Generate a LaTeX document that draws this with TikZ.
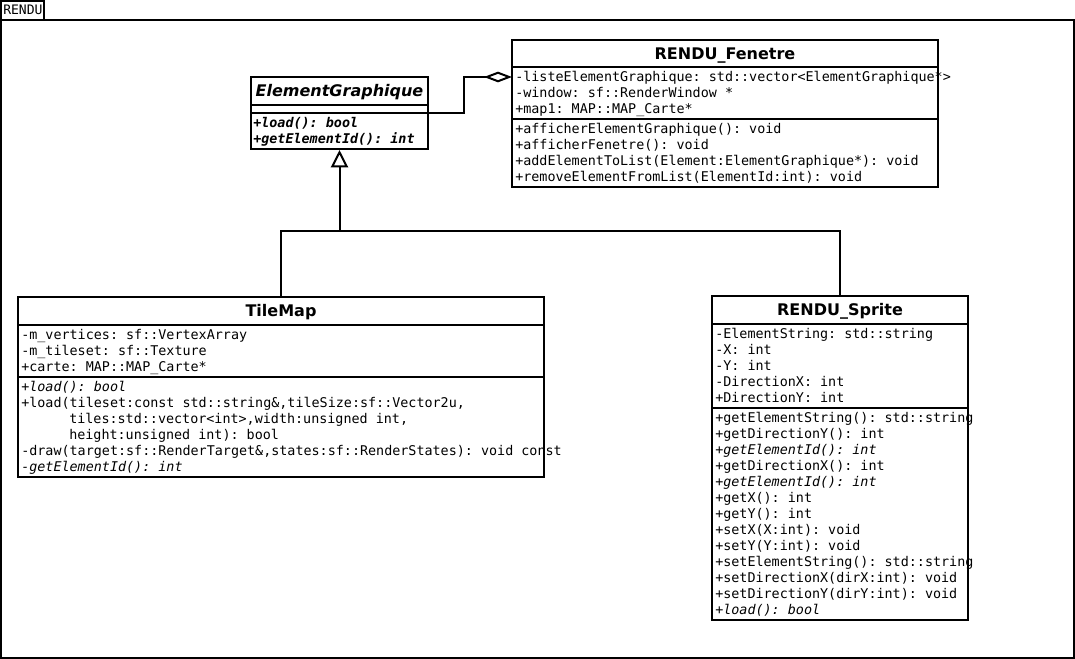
\documentclass[tikz,border=0pt]{standalone}
\usepackage{fontspec}
\setmainfont{DejaVu Sans}
\setmonofont{DejaVu Sans Mono}
\usetikzlibrary{arrows.meta,fit}
\begin{document}
\begin{tikzpicture}[x=0.75pt,y=-0.75pt,
  classbox/.style={draw=black, line width=1.5pt, fill=white, inner sep=0pt},
  frame/.style={draw=black, line width=1.5pt, inner sep=0pt},
  tabbox/.style={draw=black, line width=0.8pt, inner sep=0pt},
  sepline/.style={line width=1.5pt},
  ctitle/.style={font=\fontsize{12}{14}\selectfont\bfseries, inner sep=0pt, anchor=base},
  mem/.style={font=\fontsize{10.05}{12}\selectfont\ttfamily, inner sep=0pt, anchor=base west},
  memi/.style={mem, font=\fontsize{10.05}{12}\selectfont\ttfamily\itshape},
  membi/.style={mem, font=\fontsize{10.05}{12}\selectfont\ttfamily\bfseries\itshape},
  conn/.style={draw=black, line width=1.5pt},
  aggr/.style={conn, -{Diamond[open, length=21pt, width=8pt]}},
  inherit/.style={conn, -{Triangle[open, length=13pt, width=12.8pt]}}
]
\useasboundingbox (0,0) rectangle (1075,659);

% package frame
\node[frame, fit={(1,20) (1074,658)}] (frame) {};
\node[tabbox, fit={(1,1) (44,20)}] (tab) {};
\node[mem, font=\fontsize{9.8}{12}\selectfont\ttfamily] (tabtxt) at (3,15) {RENDU};

% ElementGraphique
\node[classbox, fit={(251,77) (428,149)}] (eg) {};
\draw[sepline] (251,105) -- (428,105);
\draw[sepline] (251,113) -- (428,113);
\node[ctitle, font=\fontsize{12}{14}\selectfont\bfseries\itshape] (egt) at (339.5,96.8) {ElementGraphique};
\node[membi] (eg1) at (253,127.8) {+load(): bool};
\node[membi] (eg2) at (253,143.8) {+getElementId(): int};

% RENDU_Fenetre
\node[classbox, fit={(512,40) (938,187)}] (fen) {};
\draw[sepline] (512,67) -- (938,67);
\draw[sepline] (512,119) -- (938,119);
\node[ctitle] (fent) at (725,59.3) {RENDU\_Fenetre};
\node[mem] (fa1) at (515,81.8) {-listeElementGraphique: std::vector<ElementGraphique*>};
\node[mem] (fa2) at (515,97.8) {-window: sf::RenderWindow *};
\node[mem] (fa3) at (515,113.8) {+map1: MAP::MAP\_Carte*};
\node[mem] (fm1) at (515,133.8) {+afficherElementGraphique(): void};
\node[mem] (fm2) at (515,149.8) {+afficherFenetre(): void};
\node[mem] (fm3) at (515,165.8) {+addElementToList(Element:ElementGraphique*): void};
\node[mem] (fm4) at (515,181.8) {+removeElementFromList(ElementId:int): void};

% TileMap
\node[classbox, fit={(18,297) (544,477)}] (tm) {};
\draw[sepline] (18,325) -- (544,325);
\draw[sepline] (18,377) -- (544,377);
\node[ctitle] (tmt) at (281,316.8) {TileMap};
\node[mem] (ta1) at (21,339.8) {-m\_vertices: sf::VertexArray};
\node[mem] (ta2) at (21,355.8) {-m\_tileset: sf::Texture};
\node[mem] (ta3) at (21,371.8) {+carte: MAP::MAP\_Carte*};
\node[memi] (tm1) at (21,391.8) {+load(): bool};
\node[mem] (tm2) at (21,407.8) {+load(tileset:const std::string\&,tileSize:sf::Vector2u,};
\node[mem] (tm3) at (69,423.8) {tiles:std::vector<int>,width:unsigned int,};
\node[mem] (tm4) at (69,439.8) {height:unsigned int): bool};
\node[mem] (tm5) at (21,455.8) {-draw(target:sf::RenderTarget\&,states:sf::RenderStates): void const};
\node[memi] (tm6) at (21,471.8) {-getElementId(): int};

% RENDU_Sprite
\node[classbox, fit={(712,296) (968,620)}] (sp) {};
\draw[sepline] (712,324) -- (968,324);
\draw[sepline] (712,408) -- (968,408);
\node[ctitle] (spt) at (840,315.8) {RENDU\_Sprite};
\node[mem] (sa1) at (715,338.8) {-ElementString: std::string};
\node[mem] (sa2) at (715,354.8) {-X: int};
\node[mem] (sa3) at (715,370.8) {-Y: int};
\node[mem] (sa4) at (715,386.8) {-DirectionX: int};
\node[mem] (sa5) at (715,402.8) {+DirectionY: int};
\node[mem] (sm1) at (715,422.8) {+getElementString(): std::string};
\node[mem] (sm2) at (715,438.8) {+getDirectionY(): int};
\node[memi] (sm3) at (715,454.8) {+getElementId(): int};
\node[mem] (sm4) at (715,470.8) {+getDirectionX(): int};
\node[memi] (sm5) at (715,486.8) {+getElementId(): int};
\node[mem] (sm6) at (715,502.8) {+getX(): int};
\node[mem] (sm7) at (715,518.8) {+getY(): int};
\node[mem] (sm8) at (715,534.8) {+setX(X:int): void};
\node[mem] (sm9) at (715,550.8) {+setY(Y:int): void};
\node[mem] (sm10) at (715,566.8) {+setElementString(): std::string};
\node[mem] (sm11) at (715,582.8) {+setDirectionX(dirX:int): void};
\node[mem] (sm12) at (715,598.8) {+setDirectionY(dirY:int): void};
\node[memi] (sm13) at (715,614.8) {+load(): bool};

% connectors
\coordinate (aggend) at (512,77);
\coordinate (aggbend) at (464,77);
\draw[aggr] (eg.east) -| (aggbend) -- (aggend);

\coordinate (junc) at (339.5,231);
\draw[conn] (tm.north) |- (junc);
\draw[conn] (sp.north) |- (junc);
\draw[inherit] (junc) -- (eg.south);
\end{tikzpicture}
\end{document}
